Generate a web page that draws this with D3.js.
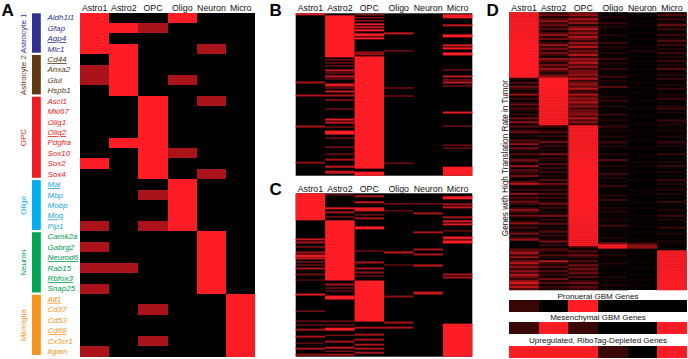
<!DOCTYPE html>
<html><head><meta charset="utf-8">
<script src="https://cdn.jsdelivr.net/npm/d3@7"></script>
<style>
body{margin:0;background:#fff}
svg{display:block}
text{font-family:"Liberation Sans",Arial,sans-serif}
</style>
</head><body>
<svg id="c" width="688" height="359"></svg>
<script>
// ---------- DATA ----------
const cellTypes = ["Astro1","Astro2","OPC","Oligo","Neuron","Micro"];
const groupNames = ["Astrocyte 1","Astrocyte 2","OPC","Oligo","Neuron","Microglia"];
const genes = ["Aldh1l1","Gfap","Aqp4","Mlc1","Cd44","Anxa2","Glul","Hspb1",
  "Ascl1","Mki67","Olig1","Olig2","Pdgfra","Sox10","Sox2","Sox4",
  "Mal","Mbp","Mobp","Mog","Plp1",
  "Camk2a","Gabrg2","Neurod6","Rab15","Rbfox3","Snap25",
  "Aif1","Cd37","Cd53","Cd68","Cx3cr1","Itgam"];
const geneGroup = [0,0,0,0,1,1,1,1,2,2,2,2,2,2,2,2,3,3,3,3,3,4,4,4,4,4,4,5,5,5,5,5,5];
const underlinedGenes = ["Aqp4","Cd44","Olig2","Mal","Mog","Neurod6","Rbfox3","Aif1","Cd68"];
// level 0 = none, 6 = moderate, 9 = high
const panelA = [
  [9,0,0,9,0,0],[9,9,6,0,0,0],[9,0,0,0,0,0],[9,9,0,0,6,0],
  [0,9,0,0,0,0],[6,9,0,0,0,0],[6,9,0,6,0,0],[0,9,0,0,0,0],
  [0,0,9,0,6,0],[0,0,9,0,0,0],[0,0,9,0,0,0],[0,0,9,0,0,0],
  [0,9,9,0,0,0],[0,0,9,6,0,0],[9,0,9,0,0,0],[0,0,9,0,6,0],
  [0,0,0,9,0,0],[0,0,6,9,0,0],[0,0,0,9,0,0],[0,0,0,9,0,0],[6,0,6,9,0,0],
  [0,0,0,0,9,0],[6,0,0,0,9,0],[0,0,0,0,9,0],[6,6,0,0,9,0],[0,0,0,0,9,0],[6,0,0,0,9,0],
  [0,0,0,0,0,9],[0,0,6,0,0,9],[0,0,0,0,0,9],[0,0,0,0,0,9],[0,0,6,0,0,9],[6,0,0,0,0,9]
];
// Panel B / C: per cell type, [startRow, endRow, level]
const panelBRows = 162;
const panelB = [
  [[0,2,8],[68,70,6],[81,83,6],[112,114,6],[148,150,5]],
  [[2,44,9],[46,47,7],[49,50,6],[52,53,6],[56,58,7],[59,60,6],[62,64,7],[65,66,6],[70,73,8],[74,75,6],
   [77,79,7],[81,83,6],[86,87,8],[95,96,6],[105,107,8],[108,110,7],[113,114,6],[117,121,9],[124,125,6],
   [133,134,7],[140,141,6],[145,147,6],[152,154,7],[157,160,7]],
  [[1,2,7],[4,5,7],[7,8,8],[10,12,8],[13,15,7],[16,18,9],[20,23,9],[24,26,9],[38,42,5],[43,155,9],[158,162,9]],
  [[19,21,7],[37,38,6],[74,75,6],[82,83,6],[149,150,6]],
  [],
  [[1,5,9],[11,13,7],[21,24,9],[31,33,8],[34,36,9],[39,42,9],[56,57,6],[62,64,7],[66,67,7],[68,70,7],
   [72,73,6],[98,100,8],[112,113,6],[131,132,6],[134,135,6],[153,162,9]]
];
const panelCRows = 163;
const panelC = [
  [[0,27,9],[45,47,7],[48,50,6],[53,54,7],[58,60,6],[61,64,8],[64,66,7],[68,69,7],[71,72,6],[74,76,6],
   [80,82,4],[86,87,4],[100,102,8],[117,118,6],[127,128,6],[131,132,5],[135,137,6],[142,144,6],[149,150,5],
   [154,156,6],[160,162,5]],
  [[1,2,5],[14,16,8],[18,20,6],[23,24,6],[27,87,9],[90,92,6],[94,95,6],[97,98,5],[102,106,9],[127,128,6],
   [131,132,6],[134,137,9],[141,142,6],[147,149,6],[153,155,7],[157,158,6],[160,162,6]],
  [[2,4,6],[8,10,7],[14,18,8],[21,22,6],[24,26,6],[33,36,9],[57,58,6],[68,70,6],[74,76,6],[78,80,5],
   [82,83,6],[87,128,9],[133,135,6],[140,142,6],[145,147,6],[150,152,6],[154,156,6],[158,160,6]],
  [[10,11,6],[17,18,5],[58,60,7],[71,72,5],[102,104,5],[128,130,6],[133,135,6]],
  [[10,11,6],[19,21,6],[38,40,6],[55,57,6],[60,62,6],[71,73,7],[98,101,7]],
  [[3,6,9],[10,12,6],[13,15,7],[23,25,6],[27,29,8],[30,32,8],[37,38,6],[43,46,8],[47,50,9],[80,82,6],
   [83,85,6],[130,163,9]]
];
// Panel D: one digit (0-9) per gene row, per cell type
const panelD = [
  "9999999999 9999999999 9999999999 9992041530 2613025142 0315261403 5120436152 1402531604 3250147213 0614253026 4152036141 2503600004 5736257463 6475368574",
  "3524635241 4625136352 5316425364 2469999999 9999999999 9999999302 4130251302 1503204131 3021405213 0413025130 2150314021 4031250314 3142073241 4231524132",
  "5637462574 6475364735 4736574635 5647356473 3746574635 5647463999 9999999999 9999999999 9999999999 9999999999 9999999999 9999999931 4253142535 3524135243",
  "1021031201 0210130210 2013021031 0130210401 1020310201 0301201302 1020130210 0210401201 1302010310 0120301021 2010210301 0102015990 1020102010 0102010201",
  "0100101000 1001000102 0010100010 0100010100 1000100010 0010001001 0100100010 0010010100 1000100001 0100010010 0010100100 1000103660 0100010010 0010100100",
  "2413025130 1302413021 3021302140 1203102031 0213010230 2010302102 1020130201 0301020310 2010302012 0201030102 1030201030 0201020100 9999999999 9999999999"
];
const dAxisLabel = "Genes with High Translation Rate in Tumor";
const dBarLabels = ["Pronueral GBM Genes","Mesenchymal GBM Genes","Upregulated, RiboTag-Depleted Genes"];
const dBarValues = [[2,0,9,0,0,0],[2,9,2,0,0,9],[9,9,9,2,0,9]];

// ---------- STYLE ----------
const groupColors = ["#2e3192","#603913","#ed1c24","#00aeef","#00a651","#f7941d"];
const geneColors  = ["#2e3192","#603913","#ed1c24","#1ba6e0","#009a4e","#f7941d"];
const heat = d3.interpolateRgb("#000000","#ff1d25");
const lvl = l => heat(l/9);
const lvlD = l => l >= 9 ? heat(1) : heat(Math.pow(l/9, 1.35));
const HF = 8.8;

const svg = d3.select("#c");

function header(x, y) {
  svg.append("g").selectAll("text").data(cellTypes).join("text")
    .attr("x", d => x(d) + x.bandwidth()/2).attr("y", y)
    .attr("text-anchor","middle").attr("font-size", HF).attr("fill","#111")
    .text(d => d);
}
function letter(t, x, y) {
  svg.append("text").attr("x",x).attr("y",y).attr("font-size",17).attr("font-weight","bold").text(t);
}

// ---------- PANEL A ----------
letter("A", 1.5, 15.5);
const xA = d3.scaleBand().domain(cellTypes).range([80, 255.3]);
const yA = d3.scaleBand().domain(d3.range(genes.length)).range([12.5, 356.5]);
header(xA, 10.5);
const gA = svg.append("g").attr("shape-rendering","crispEdges");
gA.append("rect").attr("x", xA.range()[0]).attr("y", yA.range()[0])
  .attr("width", xA.range()[1]-xA.range()[0]).attr("height", yA.range()[1]-yA.range()[0]).attr("fill","#000");
panelA.forEach((row, i) => {
  gA.append("g").selectAll("rect").data(row.map((v,j)=>({v,j})).filter(d => d.v > 0)).join("rect")
    .attr("x", d => xA(cellTypes[d.j])).attr("y", yA(i))
    .attr("width", xA.bandwidth()).attr("height", yA.bandwidth())
    .attr("fill", d => lvl(d.v));
});
// group bars and labels
const spans = groupNames.map((g, gi) => {
  const idx = d3.range(genes.length).filter(i => geneGroup[i] === gi);
  return {gi, name:g, first:d3.min(idx), last:d3.max(idx)};
});
svg.append("g").selectAll("rect").data(spans).join("rect")
  .attr("x", 32).attr("width", 8.8)
  .attr("y", d => yA(d.first)+0.8)
  .attr("height", d => yA(d.last)+yA.bandwidth()-1.5-(yA(d.first)+0.8))
  .attr("fill", d => groupColors[d.gi]);
svg.append("g").selectAll("text").data(spans).join("text")
  .attr("transform", d => `translate(26,${(yA(d.first)+yA(d.last)+yA.bandwidth())/2}) rotate(-90)`)
  .attr("text-anchor","middle").attr("font-size",8)
  .attr("fill", d => groupColors[d.gi]).text(d => d.name);
svg.append("g").selectAll("text").data(genes).join("text")
  .attr("x", 47.5).attr("y", (d,i) => yA(i)+yA.bandwidth()/2).attr("dy","0.33em")
  .attr("font-size", 8).attr("font-style","italic")
  .attr("fill", (d,i) => geneColors[geneGroup[i]])
  .style("text-decoration", d => underlinedGenes.includes(d) ? "underline" : "none")
  .text(d => d);

// ---------- PANELS B & C ----------
function segPanel(segs, N, x0, x1, top, bottom, hy) {
  const x = d3.scaleBand().domain(cellTypes).range([x0, x1]);
  const y = d3.scaleLinear().domain([0, N]).range([top, bottom]);
  header(x, hy);
  const g = svg.append("g");
  g.append("rect").attr("x", x0).attr("y", top).attr("width", x1-x0).attr("height", bottom-top).attr("fill","#000");
  segs.forEach((col, j) => {
    g.append("g").selectAll("rect").data(col).join("rect")
      .attr("x", x(cellTypes[j])).attr("width", x.bandwidth())
      .attr("y", d => y(d[0])).attr("height", d => y(d[1]) - y(d[0]))
      .attr("fill", d => lvl(d[2]));
  });
}
letter("B", 269.5, 15.5);
segPanel(panelB, panelBRows, 295.7, 472.3, 13.3, 175.7, 10.5);
letter("C", 269.5, 194.5);
segPanel(panelC, panelCRows, 295.7, 472.3, 193.3, 356.7, 191.5);

// ---------- PANEL D ----------
letter("D", 486.5, 15.5);
const dCols = panelD.map(s => s.replace(/\s+/g,"").split("").map(Number));
const nD = dCols[0].length;
const xD = d3.scaleBand().domain(cellTypes).range([509.3, 686.7]);
const yD = d3.scaleBand().domain(d3.range(nD)).range([12.3, 290]);
header(xD, 10.5);
const gD = svg.append("g");
gD.append("rect").attr("x", xD.range()[0]).attr("y", 12.3).attr("width", xD.range()[1]-xD.range()[0]).attr("height", 290-12.3).attr("fill","#000");
dCols.forEach((col, j) => {
  gD.append("g").selectAll("rect").data(col.map((v,i)=>({v,i})).filter(d => d.v > 0)).join("rect")
    .attr("x", xD(cellTypes[j])).attr("width", xD.bandwidth())
    .attr("y", d => yD(d.i)).attr("height", yD.bandwidth()+0.3)
    .attr("fill", d => lvlD(d.v));
});
svg.append("text").attr("transform", `translate(507.5,${(12.3+290)/2 + 7}) rotate(-90)`)
  .attr("text-anchor","middle").attr("font-size",8.2).attr("fill","#111").text(dAxisLabel);

const barTop = [300, 322.3, 345.7];
const barH = 12;
const labelY = [298.8, 320.3, 342.5];
dBarValues.forEach((vals, k) => {
  svg.append("g").attr("shape-rendering","crispEdges").selectAll("rect").data(vals).join("rect")
    .attr("x", (v,j) => xD(cellTypes[j])).attr("width", xD.bandwidth()+0.3)
    .attr("y", barTop[k]).attr("height", barH)
    .attr("fill", v => lvl(v));
  svg.append("text").attr("x", (xD.range()[0]+xD.range()[1])/2).attr("y", labelY[k])
    .attr("text-anchor","middle").attr("font-size",8).attr("fill","#111").text(dBarLabels[k]);
});
</script>
</body></html>
